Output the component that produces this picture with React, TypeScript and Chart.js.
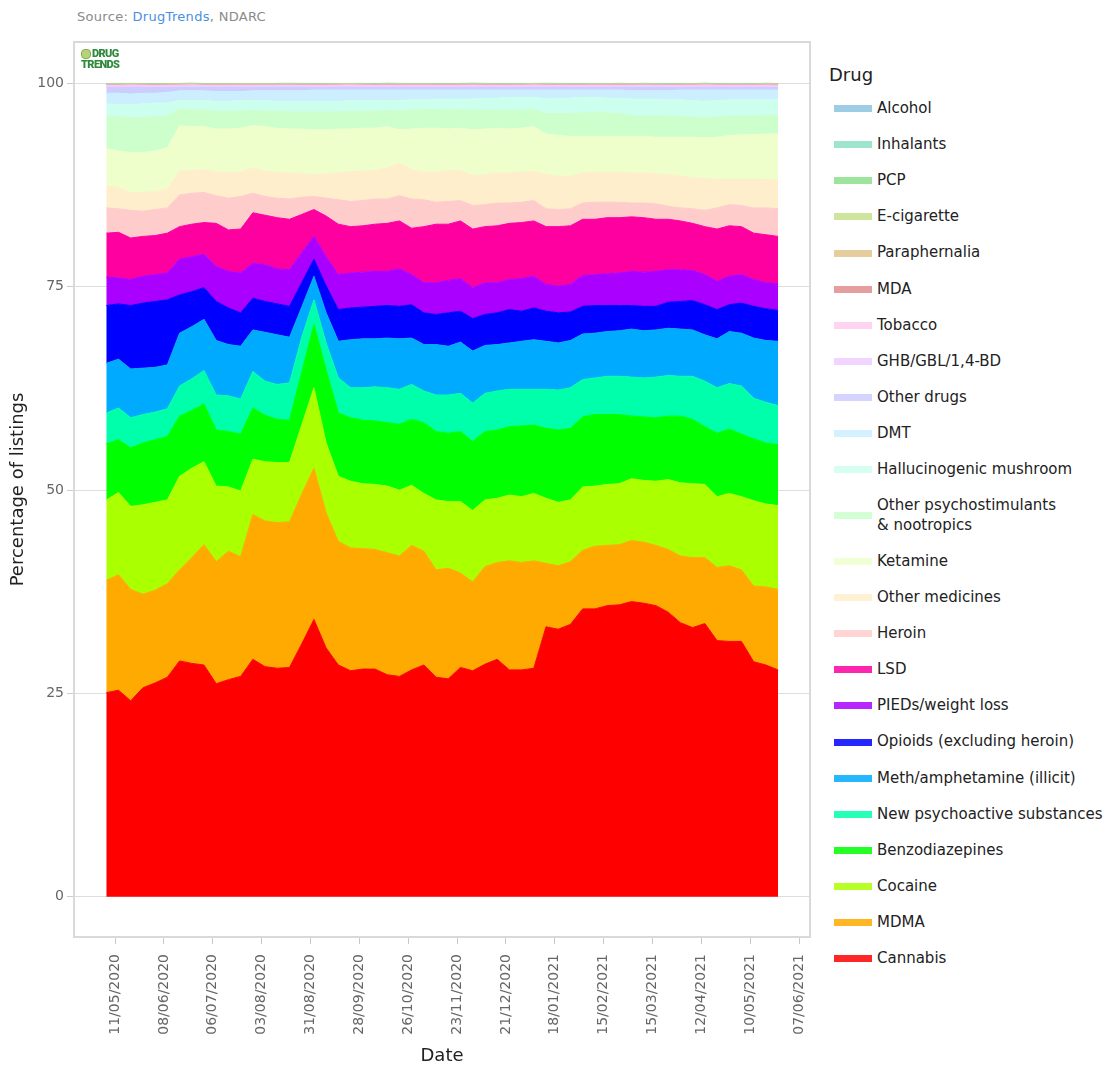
import React, { useEffect, useRef } from "react";
import { Chart, registerables } from "chart.js";
Chart.register(...registerables);

// Weekly observation dates (x categories)
const weekDates = [
  "06/05/2020", "13/05/2020", "20/05/2020", "27/05/2020", "03/06/2020", "10/06/2020", "17/06/2020", "24/06/2020",
  "01/07/2020", "08/07/2020", "15/07/2020", "22/07/2020", "29/07/2020", "05/08/2020", "12/08/2020", "19/08/2020",
  "26/08/2020", "02/09/2020", "09/09/2020", "16/09/2020", "23/09/2020", "30/09/2020", "07/10/2020", "14/10/2020",
  "21/10/2020", "28/10/2020", "04/11/2020", "11/11/2020", "18/11/2020", "25/11/2020", "02/12/2020", "09/12/2020",
  "16/12/2020", "23/12/2020", "30/12/2020", "06/01/2021", "13/01/2021", "20/01/2021", "27/01/2021", "03/02/2021",
  "10/02/2021", "17/02/2021", "24/02/2021", "03/03/2021", "10/03/2021", "17/03/2021", "24/03/2021", "31/03/2021",
  "07/04/2021", "14/04/2021", "21/04/2021", "28/04/2021", "05/05/2021", "12/05/2021", "19/05/2021", "26/05/2021",
];

const xTickLabels = [
  "11/05/2020", "08/06/2020", "06/07/2020", "03/08/2020", "31/08/2020", "28/09/2020", "26/10/2020", "23/11/2020",
  "21/12/2020", "18/01/2021", "15/02/2021", "15/03/2021", "12/04/2021", "10/05/2021", "07/06/2021",
];
const yTickValues = [0, 25, 50, 75, 100];

// Percentage of listings per drug (bottom of stack first)
const cannabis = [
  25.1, 25.4, 24.1, 25.7, 26.3, 27.0, 29.0, 28.7, 28.5, 26.2,
  26.7, 27.1, 29.2, 28.3, 28.1, 28.2, 31.1, 34.1, 30.6, 28.5,
  27.8, 28.0, 28.0, 27.3, 27.1, 27.9, 28.5, 27.0, 26.8, 28.2,
  27.8, 28.6, 29.2, 27.9, 27.9, 28.1, 33.2, 32.9, 33.5, 35.4,
  35.4, 35.8, 35.9, 36.3, 36.1, 35.8, 35.0, 33.7, 33.1, 33.6,
  31.5, 31.4, 31.4, 28.9, 28.5, 27.9,
];
const mdma = [
  13.8, 14.2, 13.7, 11.5, 11.4, 11.5, 11.2, 13.0, 14.8, 15.0,
  15.8, 14.7, 17.8, 17.9, 17.9, 17.9, 18.4, 18.6, 16.6, 15.2,
  15.1, 14.8, 14.7, 15.0, 14.8, 15.3, 14.0, 13.2, 13.6, 11.6,
  10.9, 12.0, 11.9, 13.4, 13.2, 13.2, 7.8, 7.8, 7.7, 7.2,
  7.7, 7.4, 7.4, 7.5, 7.5, 7.4, 7.7, 8.2, 8.6, 8.1,
  9.0, 9.3, 8.8, 9.3, 9.6, 9.9,
];
const cocaine = [
  9.9, 10.1, 10.2, 11.0, 10.8, 10.3, 11.5, 11.0, 10.2, 9.3,
  7.9, 8.1, 6.8, 7.3, 7.4, 7.3, 8.5, 9.9, 8.6, 8.0,
  8.2, 8.0, 8.0, 8.2, 8.1, 7.4, 7.1, 8.6, 8.2, 8.8,
  8.8, 8.2, 7.9, 8.1, 8.1, 8.3, 8.0, 7.8, 7.6, 7.8,
  7.4, 7.5, 7.5, 7.6, 7.6, 7.9, 8.6, 9.0, 9.1, 9.0,
  8.7, 8.9, 9.0, 10.5, 10.2, 10.3,
];
const benzodiazepines = [
  6.9, 6.5, 7.2, 7.6, 7.7, 7.8, 7.4, 7.1, 7.1, 6.9,
  6.8, 7.0, 6.3, 5.7, 5.3, 5.2, 6.5, 7.8, 9.0, 7.8,
  7.8, 7.8, 7.8, 7.8, 8.1, 8.1, 8.7, 8.4, 8.4, 8.6,
  8.5, 8.4, 8.4, 8.4, 8.7, 8.4, 8.6, 8.9, 8.8, 8.6,
  8.8, 8.6, 8.5, 7.7, 7.8, 7.8, 7.8, 8.2, 7.9, 7.1,
  7.8, 7.9, 7.7, 7.6, 7.5, 7.5,
];
const nps = [
  3.8, 3.9, 3.7, 3.5, 3.4, 3.4, 3.7, 3.9, 4.1, 4.3,
  4.4, 4.3, 4.5, 4.2, 4.3, 4.6, 4.3, 3.0, 3.3, 4.3,
  3.7, 4.0, 4.2, 4.3, 4.3, 4.3, 3.9, 4.5, 4.7, 4.7,
  4.7, 4.7, 4.8, 4.6, 4.5, 4.4, 4.8, 4.9, 5.0, 4.6,
  4.5, 4.7, 4.7, 4.8, 4.8, 5.0, 5.0, 4.9, 5.3, 5.6,
  5.6, 5.6, 5.9, 5.0, 5.0, 4.8,
];
const meth = [
  6.1, 6.0, 6.0, 5.7, 5.5, 5.4, 6.5, 6.4, 6.3, 6.7,
  6.3, 6.5, 5.1, 6.0, 6.1, 5.6, 3.7, 2.9, 3.7, 4.5,
  5.9, 6.0, 5.9, 6.1, 6.2, 5.7, 5.7, 6.2, 6.0, 6.3,
  6.4, 5.9, 5.7, 5.7, 5.9, 6.1, 5.9, 5.8, 5.8, 5.6,
  5.5, 5.5, 5.6, 5.9, 5.8, 5.8, 5.8, 5.8, 5.7, 5.7,
  6.0, 6.4, 6.5, 7.4, 7.6, 7.9,
];
const opioids = [
  7.1, 6.8, 7.8, 8.0, 8.1, 8.0, 4.7, 4.3, 3.9, 4.8,
  4.5, 4.1, 3.9, 3.8, 3.8, 3.8, 3.0, 2.1, 3.3, 3.9,
  3.9, 3.9, 4.0, 4.0, 4.0, 4.1, 3.9, 3.7, 4.1, 3.8,
  4.0, 3.8, 3.9, 4.1, 3.7, 3.9, 3.7, 3.7, 3.5, 3.4,
  3.4, 3.2, 3.1, 2.9, 3.0, 2.9, 3.2, 3.4, 3.6, 3.7,
  3.6, 3.3, 3.7, 3.9, 3.9, 3.8,
];
const pieds = [
  3.5, 3.2, 3.2, 3.3, 3.3, 3.3, 4.4, 4.3, 4.1, 4.3,
  4.5, 4.9, 4.3, 4.5, 4.3, 4.5, 3.7, 2.8, 3.6, 4.3,
  4.3, 4.3, 4.3, 4.2, 4.6, 3.7, 3.7, 3.9, 4.0, 4.0,
  3.8, 3.9, 3.7, 3.7, 4.0, 3.9, 3.3, 3.3, 3.4, 3.8,
  3.8, 3.9, 4.0, 4.2, 4.2, 4.3, 4.0, 3.9, 3.7, 3.7,
  3.5, 3.5, 3.5, 3.3, 3.2, 3.3,
];
const lsd = [
  5.4, 5.6, 5.1, 4.9, 4.8, 4.9, 4.0, 4.0, 3.9, 5.3,
  5.1, 5.4, 6.2, 6.1, 6.3, 6.2, 4.7, 3.3, 5.0, 6.2,
  5.7, 5.7, 5.8, 5.9, 5.9, 5.7, 6.9, 7.2, 6.9, 7.1,
  7.2, 6.9, 7.0, 6.9, 6.9, 6.8, 7.1, 7.3, 7.2, 6.9,
  6.8, 6.9, 6.8, 6.7, 6.7, 6.4, 6.2, 6.0, 5.8, 5.9,
  6.4, 6.2, 5.9, 5.7, 5.9, 5.8,
];
const heroin = [
  3.1, 2.9, 3.4, 3.1, 3.2, 3.1, 3.9, 3.8, 3.7, 3.4,
  3.9, 4.0, 2.4, 2.3, 2.4, 2.5, 2.1, 1.6, 2.2, 3.0,
  3.1, 3.1, 3.1, 3.0, 3.1, 3.6, 3.3, 2.7, 2.8, 2.5,
  2.9, 2.7, 2.8, 2.5, 2.5, 2.5, 2.2, 2.1, 2.1, 2.0,
  2.1, 1.9, 1.9, 1.7, 1.8, 1.9, 1.6, 1.6, 1.8, 2.0,
  2.6, 2.6, 2.6, 3.1, 3.3, 3.4,
];
const otherMedicines = [
  2.7, 2.6, 2.2, 2.3, 2.2, 2.3, 2.9, 2.8, 2.8, 2.9,
  3.2, 3.0, 3.1, 3.1, 3.2, 3.2, 2.9, 2.7, 3.0, 3.3,
  3.7, 3.6, 3.5, 3.8, 4.0, 3.6, 3.4, 3.7, 3.8, 3.7,
  3.7, 3.7, 3.7, 3.7, 3.7, 3.6, 4.2, 4.1, 4.0, 3.7,
  3.7, 3.7, 3.7, 3.7, 3.7, 3.7, 3.9, 3.9, 3.8, 3.9,
  3.5, 3.1, 3.2, 3.5, 3.5, 3.5,
];
const ketamine = [
  4.6, 4.5, 4.9, 4.9, 5.0, 5.1, 5.6, 5.4, 5.3, 5.3,
  5.3, 5.4, 5.2, 5.5, 5.4, 5.4, 5.5, 5.5, 5.4, 5.4,
  5.2, 5.3, 5.2, 5.1, 4.1, 5.0, 5.4, 5.4, 5.1, 5.2,
  5.6, 5.6, 5.5, 5.4, 5.4, 5.5, 5.0, 5.0, 4.9, 4.5,
  4.4, 4.4, 4.4, 4.5, 4.5, 4.5, 4.6, 4.8, 5.0, 5.0,
  5.2, 5.4, 5.5, 5.5, 5.6, 5.7,
];
const otherPsychostimulants = [
  4.0, 4.2, 4.3, 4.3, 4.2, 3.9, 2.1, 2.1, 2.0, 2.2,
  2.2, 2.1, 1.9, 1.9, 2.1, 2.1, 2.1, 2.2, 2.2, 2.1,
  2.2, 2.1, 2.1, 2.0, 2.3, 2.3, 2.3, 2.3, 2.3, 2.3,
  2.4, 2.3, 2.2, 2.3, 2.2, 2.1, 2.5, 2.7, 2.8, 2.9,
  2.9, 2.9, 2.8, 2.5, 2.5, 2.6, 2.6, 2.5, 2.5, 2.5,
  2.5, 2.4, 2.3, 2.3, 2.3, 2.3,
];
const hallucinogenicMushroom = [
  1.5, 1.5, 1.6, 1.7, 1.7, 1.6, 1.0, 1.1, 1.2, 1.2,
  1.2, 1.3, 1.2, 1.3, 1.2, 1.3, 1.3, 1.3, 1.3, 1.3,
  1.3, 1.3, 1.3, 1.2, 1.3, 1.3, 1.2, 1.3, 1.4, 1.3,
  1.4, 1.5, 1.5, 1.6, 1.6, 1.5, 1.8, 1.9, 1.9, 1.9,
  1.9, 1.8, 1.9, 2.1, 2.1, 2.1, 2.0, 2.1, 2.0, 2.0,
  2.0, 2.0, 2.0, 2.0, 1.9, 1.9,
];
const dmt = [
  1.3, 1.4, 1.3, 1.3, 1.2, 1.3, 1.2, 1.2, 1.2, 1.2,
  1.2, 1.1, 1.2, 1.2, 1.3, 1.3, 1.3, 1.4, 1.4, 1.4,
  1.3, 1.3, 1.3, 1.3, 1.3, 1.2, 1.2, 1.1, 1.1, 1.1,
  1.1, 1.0, 1.0, 0.9, 0.9, 0.9, 1.1, 1.0, 1.0, 0.9,
  0.9, 1.0, 1.0, 1.0, 1.0, 1.0, 1.1, 1.2, 1.3, 1.4,
  1.3, 1.2, 1.2, 1.2, 1.2, 1.2,
];
const otherDrugs = [
  0.7, 0.7, 0.8, 0.7, 0.7, 0.6, 0.4, 0.4, 0.4, 0.5,
  0.5, 0.5, 0.4, 0.4, 0.4, 0.4, 0.4, 0.3, 0.3, 0.3,
  0.3, 0.3, 0.3, 0.3, 0.3, 0.3, 0.3, 0.3, 0.3, 0.3,
  0.3, 0.3, 0.3, 0.3, 0.3, 0.3, 0.3, 0.3, 0.3, 0.3,
  0.3, 0.3, 0.3, 0.4, 0.4, 0.4, 0.4, 0.3, 0.3, 0.3,
  0.3, 0.3, 0.3, 0.3, 0.3, 0.3,
];
const ghb = [
  0.25, 0.24, 0.26, 0.25, 0.23, 0.25, 0.26, 0.27, 0.25, 0.24,
  0.25, 0.26, 0.24, 0.25, 0.25, 0.26, 0.25, 0.24, 0.25, 0.26,
  0.27, 0.25, 0.24, 0.25, 0.25, 0.26, 0.25, 0.24, 0.23, 0.25,
  0.26, 0.25, 0.25, 0.24, 0.25, 0.26, 0.25, 0.25, 0.24, 0.25,
  0.26, 0.25, 0.24, 0.25, 0.26, 0.25, 0.25, 0.24, 0.25, 0.26,
  0.25, 0.24, 0.25, 0.25, 0.26, 0.25,
];
const tobacco = [
  0.06, 0.06, 0.07, 0.06, 0.06, 0.05, 0.06, 0.07, 0.06, 0.06,
  0.06, 0.05, 0.06, 0.06, 0.07, 0.06, 0.06, 0.06, 0.05, 0.06,
  0.06, 0.07, 0.06, 0.06, 0.06, 0.05, 0.06, 0.06, 0.07, 0.06,
  0.06, 0.06, 0.05, 0.06, 0.06, 0.07, 0.06, 0.06, 0.06, 0.05,
  0.06, 0.06, 0.07, 0.06, 0.06, 0.06, 0.05, 0.06, 0.06, 0.07,
  0.06, 0.06, 0.06, 0.05, 0.06, 0.06,
];
const mda = [
  0.04, 0.04, 0.03, 0.04, 0.05, 0.04, 0.04, 0.03, 0.04, 0.04,
  0.05, 0.04, 0.04, 0.03, 0.04, 0.04, 0.05, 0.04, 0.04, 0.04,
  0.03, 0.04, 0.04, 0.05, 0.04, 0.04, 0.03, 0.04, 0.04, 0.05,
  0.04, 0.04, 0.04, 0.03, 0.04, 0.04, 0.05, 0.04, 0.04, 0.03,
  0.04, 0.04, 0.05, 0.04, 0.04, 0.04, 0.03, 0.04, 0.04, 0.05,
  0.04, 0.04, 0.04, 0.03, 0.04, 0.04,
];
const paraphernalia = [
  0.06, 0.07, 0.06, 0.06, 0.05, 0.06, 0.07, 0.06, 0.06, 0.06,
  0.05, 0.06, 0.07, 0.06, 0.06, 0.06, 0.05, 0.06, 0.07, 0.06,
  0.06, 0.06, 0.05, 0.06, 0.07, 0.06, 0.06, 0.06, 0.05, 0.06,
  0.07, 0.06, 0.06, 0.06, 0.05, 0.06, 0.07, 0.06, 0.06, 0.06,
  0.05, 0.06, 0.07, 0.06, 0.06, 0.06, 0.05, 0.06, 0.07, 0.06,
  0.06, 0.06, 0.05, 0.06, 0.07, 0.06,
];
const eCigarette = [
  0.03, 0.03, 0.02, 0.03, 0.03, 0.04, 0.03, 0.03, 0.02, 0.03,
  0.03, 0.03, 0.04, 0.03, 0.03, 0.02, 0.03, 0.03, 0.03, 0.04,
  0.03, 0.03, 0.02, 0.03, 0.03, 0.03, 0.04, 0.03, 0.03, 0.02,
  0.03, 0.03, 0.03, 0.04, 0.03, 0.03, 0.02, 0.03, 0.03, 0.03,
  0.04, 0.03, 0.03, 0.02, 0.03, 0.03, 0.03, 0.04, 0.03, 0.03,
  0.02, 0.03, 0.03, 0.03, 0.04, 0.03,
];
const pcp = [
  0.02, 0.02, 0.02, 0.01, 0.02, 0.02, 0.02, 0.03, 0.02, 0.02,
  0.02, 0.01, 0.02, 0.02, 0.02, 0.03, 0.02, 0.02, 0.02, 0.01,
  0.02, 0.02, 0.02, 0.03, 0.02, 0.02, 0.02, 0.01, 0.02, 0.02,
  0.02, 0.03, 0.02, 0.02, 0.02, 0.01, 0.02, 0.02, 0.02, 0.03,
  0.02, 0.02, 0.02, 0.01, 0.02, 0.02, 0.02, 0.03, 0.02, 0.02,
  0.02, 0.01, 0.02, 0.02, 0.02, 0.03,
];
const inhalants = [
  0.02, 0.02, 0.03, 0.02, 0.02, 0.02, 0.01, 0.02, 0.02, 0.03,
  0.02, 0.02, 0.02, 0.01, 0.02, 0.02, 0.03, 0.02, 0.02, 0.02,
  0.01, 0.02, 0.02, 0.03, 0.02, 0.02, 0.02, 0.01, 0.02, 0.02,
  0.03, 0.02, 0.02, 0.02, 0.01, 0.02, 0.02, 0.03, 0.02, 0.02,
  0.02, 0.01, 0.02, 0.02, 0.03, 0.02, 0.02, 0.02, 0.01, 0.02,
  0.02, 0.03, 0.02, 0.02, 0.02, 0.01,
];
const alcohol = [
  0.02, 0.03, 0.02, 0.02, 0.02, 0.01, 0.02, 0.02, 0.03, 0.02,
  0.02, 0.02, 0.01, 0.02, 0.02, 0.03, 0.02, 0.02, 0.02, 0.01,
  0.02, 0.02, 0.03, 0.02, 0.02, 0.02, 0.01, 0.02, 0.02, 0.03,
  0.02, 0.02, 0.02, 0.01, 0.02, 0.02, 0.03, 0.02, 0.02, 0.02,
  0.01, 0.02, 0.02, 0.03, 0.02, 0.02, 0.02, 0.01, 0.02, 0.02,
  0.03, 0.02, 0.02, 0.02, 0.01, 0.02,
];

// Stack order: bottom (first) to top (last)
const series = [
  { label: "Cannabis", values: cannabis, color: "#ff0000" },
  { label: "MDMA", values: mdma, color: "#ffaa00" },
  { label: "Cocaine", values: cocaine, color: "#aaff00" },
  { label: "Benzodiazepines", values: benzodiazepines, color: "#00ff00" },
  { label: "New psychoactive substances", values: nps, color: "#00ffaa" },
  { label: "Meth/amphetamine (illicit)", values: meth, color: "#00aaff" },
  { label: "Opioids (excluding heroin)", values: opioids, color: "#0000ff" },
  { label: "PIEDs/weight loss", values: pieds, color: "#aa00ff" },
  { label: "LSD", values: lsd, color: "#ff00a0" },
  { label: "Heroin", values: heroin, color: "#ffcccc" },
  { label: "Other medicines", values: otherMedicines, color: "#ffeecc" },
  { label: "Ketamine", values: ketamine, color: "#eeffcc" },
  { label: "Other psychostimulants & nootropics", values: otherPsychostimulants, color: "#ccffcc" },
  { label: "Hallucinogenic mushroom", values: hallucinogenicMushroom, color: "#ccffee" },
  { label: "DMT", values: dmt, color: "#cceeff" },
  { label: "Other drugs", values: otherDrugs, color: "#ccccff" },
  { label: "GHB/GBL/1,4-BD", values: ghb, color: "#eeccff" },
  { label: "Tobacco", values: tobacco, color: "#ffccee" },
  { label: "MDA", values: mda, color: "#e08c8c" },
  { label: "Paraphernalia", values: paraphernalia, color: "#e0c48c" },
  { label: "E-cigarette", values: eCigarette, color: "#c4e08c" },
  { label: "PCP", values: pcp, color: "#8ce08c" },
  { label: "Inhalants", values: inhalants, color: "#8ce0c4" },
  { label: "Alcohol", values: alcohol, color: "#8cc4e0" },
];

const FONT = "'DejaVu Sans', Verdana, sans-serif";

function dayNumber(s: string): number {
  const [d, m, y] = s.split("/").map(Number);
  return Date.UTC(y, m - 1, d) / 86400000;
}

export default function App() {
  const canvasRef = useRef<HTMLCanvasElement | null>(null);

  useEffect(() => {
    const canvas = canvasRef.current;
    if (!canvas) return;
    const xs = weekDates.map(dayNumber);
    const tickDays = xTickLabels.map(dayNumber);
    const origin = tickDays[0];

    const datasets = series.map((s, i) => ({
      label: s.label,
      data: s.values.map((v, j) => ({ x: xs[j], y: v })),
      backgroundColor: s.color,
      borderColor: s.color,
      borderWidth: 1,
      pointRadius: 0,
      pointHoverRadius: 0,
      tension: 0,
      fill: i === 0 ? "origin" : "-1",
    }));

    const boxPlugin = {
      id: "plotBox",
      beforeDatasetsDraw(chart: any) {
        const { ctx, chartArea: a } = chart;
        ctx.save();
        ctx.strokeStyle = "#d9d9d9";
        ctx.lineWidth = 2;
        ctx.strokeRect(a.left, a.top, a.right - a.left, a.bottom - a.top);
        ctx.restore();
      },
    };

    const chart = new Chart(canvas, {
      type: "line",
      data: { datasets: datasets as any },
      options: {
        responsive: false,
        animation: false,
        events: [],
        layout: { padding: { top: 42, right: 10, left: 0, bottom: 0 } },
        plugins: {
          legend: { display: false },
          tooltip: { enabled: false },
        },
        scales: {
          x: {
            type: "linear",
            min: origin - 23.5,
            max: origin + 398.3,
            grid: {
              display: true,
              drawOnChartArea: false,
              drawTicks: true,
              tickLength: 7,
              tickColor: "#c8c8c8",
            },
            border: { display: false },
            afterBuildTicks: (scale: any) => {
              scale.ticks = tickDays.map((v) => ({ value: v }));
            },
            afterFit: (scale: any) => {
              scale.height = 130;
            },
            ticks: {
              autoSkip: false,
              maxRotation: 90,
              minRotation: 90,
              padding: 10,
              color: "#666666",
              font: { family: FONT, size: 14 },
              callback: (value: any) => {
                const idx = tickDays.indexOf(Number(value));
                return idx >= 0 ? xTickLabels[idx] : "";
              },
            },
            title: {
              display: true,
              text: "Date",
              color: "#222222",
              font: { family: FONT, size: 18 },
              padding: { top: 0, bottom: 0 },
            },
          },
          y: {
            type: "linear",
            stacked: true,
            min: -4.94,
            max: 105.1,
            grid: {
              color: "#dddddd",
              tickColor: "#cccccc",
              tickLength: 7,
              drawTicks: true,
            },
            border: { display: false },
            afterBuildTicks: (scale: any) => {
              scale.ticks = yTickValues.map((v) => ({ value: v }));
            },
            afterFit: (scale: any) => {
              scale.width = 74;
            },
            ticks: {
              padding: 3,
              color: "#666666",
              font: { family: FONT, size: 14 },
            },
            title: {
              display: true,
              text: "Percentage of listings",
              color: "#222222",
              font: { family: FONT, size: 18 },
              padding: { top: 8, bottom: 0 },
            },
          },
        },
      },
      plugins: [boxPlugin],
    });

    return () => chart.destroy();
  }, []);

  const legendItems = [...series].reverse();

  return (
    <div
      style={{
        position: "absolute",
        left: 0,
        top: 0,
        width: 1114,
        height: 1067,
        overflow: "hidden",
        background: "#ffffff",
        fontFamily: FONT,
      }}
    >
      <div
        style={{
          position: "absolute",
          left: 77,
          top: 9,
          fontSize: 13,
          letterSpacing: 0.3,
          color: "#8a8a8a",
          whiteSpace: "nowrap",
        }}
      >
        Source: <span style={{ color: "#4a8fe0" }}>DrugTrends</span>, NDARC
      </div>
      <canvas
        ref={canvasRef}
        width={826}
        height={1067}
        style={{ position: "absolute", left: 0, top: 0, width: 826, height: 1067 }}
      />
      <div
        style={{
          position: "absolute",
          left: 81,
          top: 48,
          width: 52,
          color: "#2f8a3c",
          fontFamily: "Roboto, 'DejaVu Sans', sans-serif",
          fontWeight: 900,
          fontSize: 11,
          lineHeight: "11px",
          letterSpacing: -0.6,
        }}
      >
        <div style={{ display: "flex", alignItems: "center" }}>
          <span
            style={{
              display: "inline-block",
              width: 8,
              height: 8,
              borderRadius: 4,
              background: "#b9d27a",
              border: "1px solid #7fb04e",
              marginRight: 1,
            }}
          />
          <span>DRUG</span>
        </div>
        <div>TRENDS</div>
      </div>
      <div style={{ position: "absolute", left: 829, top: 60, color: "#222" }}>
        <div style={{ fontSize: 18, height: 30.4, lineHeight: "30px" }}>Drug</div>
        {legendItems.map((s) => {
          const lines = s.label.includes(" & ")
            ? [s.label.split(" & ")[0], "& " + s.label.split(" & ")[1]]
            : [s.label];
          return (
            <div
              key={s.label}
              style={{
                display: "flex",
                alignItems: "center",
                height: lines.length > 1 ? 55.4 : 36.15,
                whiteSpace: "nowrap",
              }}
            >
              <span
                style={{
                  display: "inline-block",
                  width: 38,
                  height: 7,
                  marginLeft: 5,
                  marginRight: 5,
                  background: s.color,
                  opacity: 0.85,
                  flex: "0 0 auto",
                }}
              />
              <span style={{ fontSize: 15, lineHeight: "19.3px", color: "#222" }}>
                {lines.map((l, i) => (
                  <div key={i}>{l}</div>
                ))}
              </span>
            </div>
          );
        })}
      </div>
    </div>
  );
}
